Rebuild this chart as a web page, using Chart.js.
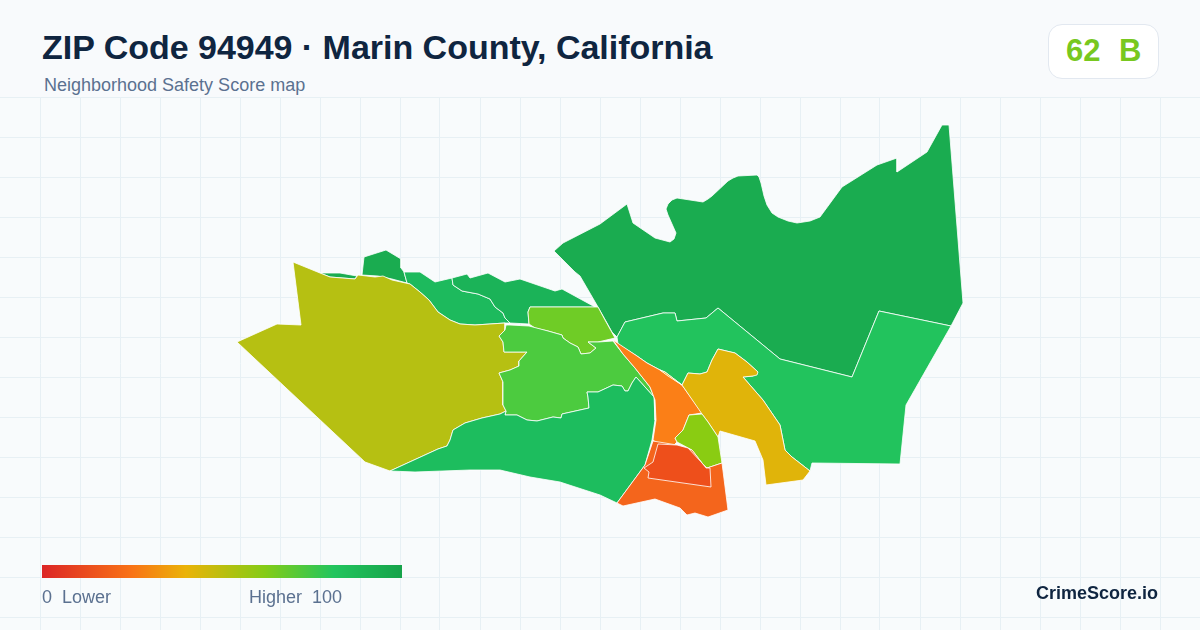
<!DOCTYPE html>
<html>
<head>
<meta charset="utf-8">
<title>ZIP Code 94949</title>
<script src="https://cdn.jsdelivr.net/npm/chart.js@4"></script>
<style>
  html, body { margin: 0; padding: 0; }
  body { width: 1200px; height: 630px; position: relative; overflow: hidden; background: #f8fafc; font-family: "Liberation Sans", Arial, sans-serif; }
  #mapWrap { position: absolute; left: 0; top: 97px; width: 1200px; height: 533px; background: #f8fbfc; }
  .txt { position: absolute; white-space: pre; line-height: 1; }
  #title { left: 42px; top: 30px; font-size: 34px; font-weight: 700; color: #0f2540; letter-spacing: -0.02px; }
  #subtitle { left: 44px; top: 76px; font-size: 18px; color: #5b7190; }
  #badge { position: absolute; left: 1048px; top: 24px; width: 109px; height: 53px; background: #fff; border: 1px solid #e2e8f0; border-radius: 14px; }
  #score { left: 1066px; top: 35px; font-size: 31px; font-weight: 700; color: #78c81f; word-spacing: 0.6px; }
  #ramp { position: absolute; left: 42px; top: 565px; width: 360px; height: 13px; background: linear-gradient(90deg, #dc2626 0%, #f97316 25%, #eab308 40%, #84cc16 62%, #22c55e 81%, #16a34a 100%); }
  .leg { top: 588px; font-size: 18px; color: #5b7190; }
  #brand { left: 1036px; top: 584px; font-size: 18px; font-weight: 700; color: #0f2540; }
</style>
</head>
<body>
<div id="mapWrap"><canvas id="mapChart" width="1200" height="533"></canvas></div>
<div class="txt" id="title">ZIP Code 94949 · Marin County, California</div>
<div class="txt" id="subtitle">Neighborhood Safety Score map</div>
<div id="badge"></div>
<div class="txt" id="score">62  B</div>
<div id="ramp"></div>
<div class="txt leg" style="left:42px">0  Lower</div>
<div class="txt leg" style="left:249px">Higher  100</div>
<div class="txt" id="brand">CrimeScore.io</div>
<script>
// Boundaries, as [x, y] in map units
const north = [[554,251],[563,243],[600,224],[627,204],[633,223],[655,238],[670,242],[674,239],[676,233],[672,224],[668,215],[666,209],[668,204],[672,200],[677,198],[703,202],[708,199],[712,196],[728,181],[733,178],[738,176],[757,175],[759,177],[761,183],[764,196],[767,205],[772,213],[778,217],[788,221],[797,223],[810,221],[820,217],[842,187],[877,165],[897,158],[897,172],[927,152],[942,125],[949,125],[963,303],[951,326],[879,311],[852,377],[780,359],[718,308],[706,318],[677,321],[675,313],[663,313],[625,322],[617,337],[612,332],[607,323],[598,307],[580,276],[575,272]];
const east = [[617,337],[625,322],[663,313],[675,313],[677,321],[706,318],[718,308],[780,359],[852,377],[879,311],[951,326],[906,405],[900,464],[812,463],[810,471],[792,457],[785,450],[780,425],[763,400],[743,377],[753,376],[758,372],[747,362],[735,353],[718,349],[712,360],[707,372],[700,374],[688,373],[682,385],[665,372],[660,370],[647,363],[637,356],[618,344]];
const west = [[293,262],[320,273],[330,277],[355,279],[358,275],[375,277],[383,276],[392,280],[410,284],[420,292],[429,300],[438,312],[450,320],[460,324],[475,325],[505,323],[505,330],[499,336],[503,342],[504,352],[520,352],[527,352],[519,361],[519,366],[510,370],[499,373],[503,382],[503,405],[506,411],[500,414],[482,418],[465,423],[453,430],[450,440],[447,446],[438,449],[390,471],[365,462],[237,342],[277,324],[301,325]];
const nwSliver = [[320,273],[340,273],[357,276],[355,279],[330,277]];
const nwPatch = [[362,275],[364,257],[386,250],[401,259],[401,268],[404,272],[407,283],[392,279],[378,276]];
const ridgeWest = [[404,272],[420,272],[435,282],[452,278],[453,285],[462,291],[478,294],[490,299],[495,307],[503,313],[505,318],[510,323],[505,323],[475,325],[460,324],[450,320],[438,312],[429,300],[420,292],[410,284],[407,283]];
const ridgeEast = [[452,278],[467,274],[470,278],[488,273],[505,282],[520,279],[555,291],[562,289],[595,307],[530,307],[528,312],[529,324],[510,323],[505,318],[503,313],[495,307],[490,299],[478,294],[462,291],[453,285]];
const valleyNorth = [[530,307],[598,307],[605,320],[610,329],[615,338],[598,342],[588,342],[596,348],[590,353],[581,354],[578,347],[570,343],[563,338],[562,335],[548,331],[535,328],[529,324],[528,312]];
const valley = [[506,325],[510,325],[529,326],[548,331],[562,335],[563,338],[570,343],[578,347],[581,354],[590,353],[596,348],[588,342],[598,342],[613,341],[623,354],[635,368],[650,387],[654,397],[636,377],[632,383],[628,391],[625,391],[622,386],[613,385],[598,392],[587,392],[588,397],[589,408],[562,414],[561,418],[553,417],[537,421],[527,420],[517,415],[505,415],[506,411],[503,405],[503,382],[499,373],[510,370],[519,366],[519,361],[527,352],[520,352],[504,352],[503,342],[499,336],[505,330]];
const south = [[390,471],[438,449],[447,446],[450,440],[453,430],[465,423],[482,418],[500,414],[506,411],[505,415],[517,415],[527,420],[537,421],[553,417],[561,418],[562,414],[589,408],[588,397],[587,392],[598,392],[613,385],[622,386],[625,391],[628,391],[632,383],[636,377],[654,397],[655,420],[652,440],[645,465],[617,503],[600,495],[560,482],[530,477],[500,470],[470,470],[415,472]];
const canal = [[613,340],[637,356],[647,363],[660,370],[682,385],[702,413],[689,415],[683,430],[675,438],[677,442],[674,445],[658,444],[653,440],[656,420],[655,400],[650,387],[635,368],[623,354]];
const canalEdge = [[660,370],[665,372],[682,385],[668,376]];
const hills = [[682,385],[688,373],[700,374],[707,372],[712,360],[718,349],[735,353],[747,362],[758,372],[757,375],[753,376],[743,377],[763,400],[780,425],[785,450],[792,457],[810,471],[803,480],[766,485],[763,460],[755,441],[720,431],[718,437],[708,422],[702,414]];
const center = [[689,415],[702,414],[708,422],[718,437],[722,463],[707,468],[702,463],[692,450],[677,442],[675,438],[683,430]];
const shore = [[653,441],[677,445],[692,450],[702,463],[707,468],[722,463],[728,510],[708,517],[695,513],[687,515],[680,508],[655,499],[623,506],[617,503],[645,465]];
const downtown = [[658,444],[677,445],[688,448],[702,463],[706,468],[710,468],[711,487],[648,478],[649,472],[644,468],[653,462]];

const regions = [north, east, nwSliver, nwPatch, ridgeWest, ridgeEast, west, valleyNorth, valley, south, canal, canalEdge, hills, center, shore, downtown];
const regionColors = ['#1aac50', '#22c35d', '#1aac50', '#1aac50', '#1dba5d', '#1bb358', '#b6c012', '#6fcc26', '#4ccb3f', '#1dbd5e', '#fb7f17', '#e0b40a', '#e0b40a', '#8acc12', '#f4651c', '#ee4f1b'];

const gridX = [40,80,120,160,200,240,280,320,360,400,440,480,520,560,600,640,680,720,760,800,840,880,920,960,1000,1040,1080,1120,1160];
const gridY = [97,137,177,217,257,297,337,377,417,457,497,537,577,617];

function toPoints(ring) {
    const pts = ring.map(p => ({ x: p[0], y: p[1] }));
    pts.push({ x: ring[0][0], y: ring[0][1] }); // cerrar el contorno
    return pts;
}

function fixedTicks(values) {
    return function (axis) { axis.ticks = values.map(v => ({ value: v })); };
}

const gridStyle = { color: '#e7f0f4', lineWidth: 1, drawTicks: false };

new Chart(document.getElementById('mapChart').getContext('2d'), {
    type: 'scatter',
    data: {
        datasets: regions.map((ring, i) => ({
            data: toPoints(ring),
            showLine: true,
            fill: 'shape',
            backgroundColor: regionColors[i],
            borderColor: '#ffffff',
            borderWidth: 0.8,
            pointRadius: 0,
            tension: 0,
            order: regions.length - i
        }))
    },
    options: {
        responsive: false,
        animation: false,
        devicePixelRatio: 1,
        layout: { padding: 0 },
        plugins: { legend: { display: false }, tooltip: { enabled: false } },
        scales: {
            x: { type: 'linear', min: 0, max: 1200, afterBuildTicks: fixedTicks(gridX), grid: gridStyle, border: { display: false }, ticks: { display: false } },
            y: { type: 'linear', min: 97, max: 630, reverse: true, afterBuildTicks: fixedTicks(gridY), grid: gridStyle, border: { display: false }, ticks: { display: false } }
        }
    }
});
</script>
</body>
</html>
